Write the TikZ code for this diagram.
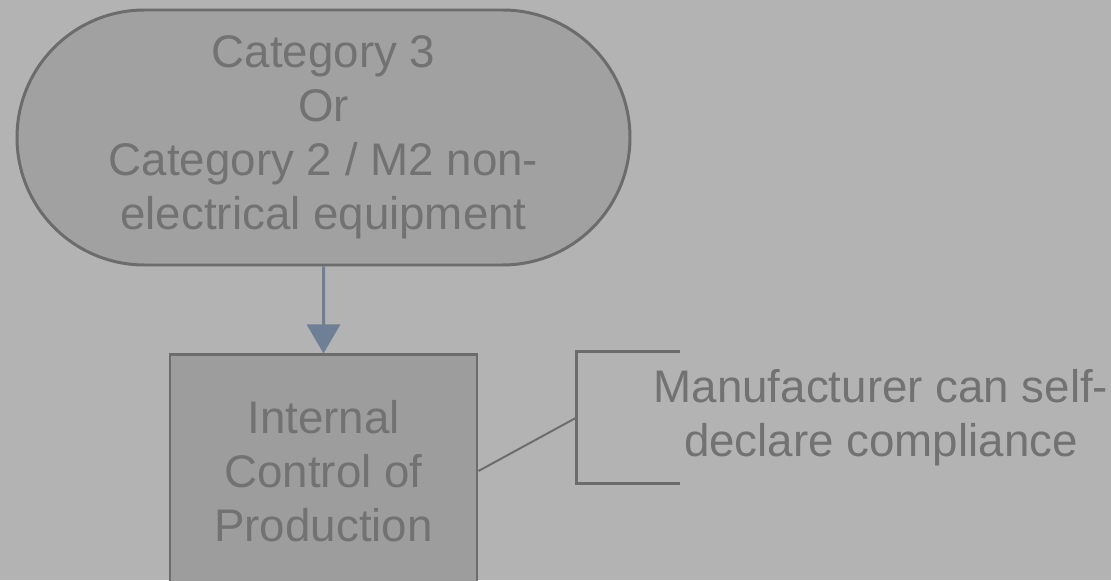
\documentclass[tikz,border=0pt]{standalone}
\usepackage{fontspec}
\setmainfont{Liberation Sans}
\usepackage{xcolor}
\usepackage{tikz}
\usetikzlibrary{arrows.meta,positioning,shapes.misc}

\definecolor{bggray}{HTML}{B3B3B3}
\definecolor{shapegray}{HTML}{A1A1A1}
\definecolor{boxgray}{HTML}{9D9D9D}
\definecolor{edgegray}{HTML}{6C6C6C}
\definecolor{textgray}{HTML}{727272}
\definecolor{arrowblue}{HTML}{6F7F95}

\begin{document}
\begin{tikzpicture}[
    node distance=17.4mm,
    txt/.style={align=center,text=textgray,font=\fontsize{26}{30.7}\selectfont},
    start/.style={txt,draw=edgegray,line width=1.7pt,fill=shapegray,rounded rectangle,
      minimum width=12.26cm,minimum height=5.1cm,inner sep=0pt},
    box/.style={txt,draw=edgegray,line width=1.7pt,fill=boxgray,
      minimum width=6.14cm,minimum height=4.64cm,inner sep=0pt},
    note/.style={txt,minimum width=12.16cm,minimum height=2.62cm,inner sep=0pt},
    arrow/.style={-{Triangle[length=5.8mm,width=6.6mm]},line width=1.7pt,draw=arrowblue},
    link/.style={draw=edgegray,line width=1.1pt}
  ]
    \fill[bggray] (0,0) rectangle (22.22,11.6);
    \useasboundingbox (0,0) rectangle (22.22,11.6);
    \node[start] (cat) at (6.47,8.85) {Category 3\\Or\\Category 2 / M2 non-\\electrical equipment};
    \node[box,below=of cat] (ctrl) {Internal\\Control of\\Production};
    \node[note] (note) at (17.62,3.25) {Manufacturer can self-\\declare compliance};
    \draw[arrow] (cat) -- (ctrl);
    \draw[link] (ctrl.east) -- (note.west);
    % bracket of the annotation
    \draw[edgegray,line width=1.7pt] ([xshift=2.06cm]note.north west) -- (note.north west)
      -- (note.south west) -- ([xshift=2.06cm]note.south west);
  \end{tikzpicture}
\end{document}
